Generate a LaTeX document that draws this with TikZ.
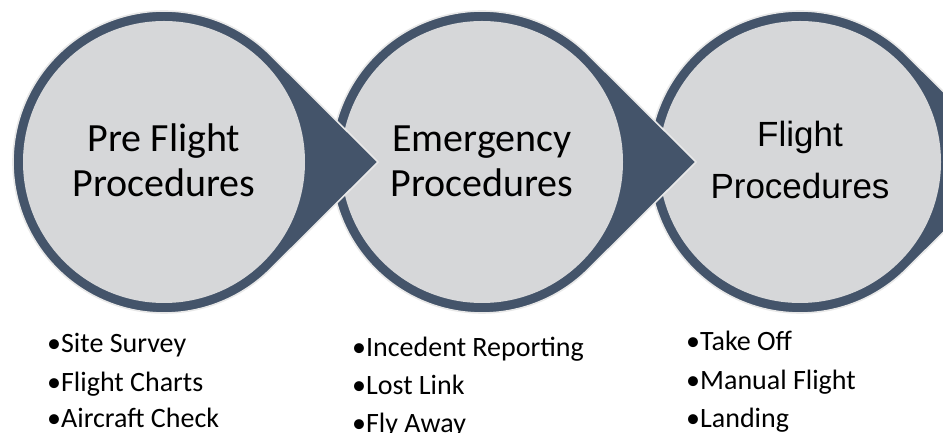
\documentclass[tikz,border=0pt]{standalone}
\usepackage{fontspec}
\newfontfamily\calfont{Carlito}
\newfontfamily\arifont{Liberation Sans}
\usetikzlibrary{calc}
\definecolor{ringdark}{HTML}{44546A}
\definecolor{discfill}{HTML}{D6D7D9}
\definecolor{halo}{HTML}{E8E8E8}
\tikzset{
  teardrop/.style={fill=ringdark, draw=halo, line width=1.6pt, line join=miter},
  disc/.style={fill=discfill},
  biglabel/.style={anchor=base, inner sep=0pt, font=\calfont\fontsize{40}{45}\selectfont},
  biglabelb/.style={anchor=base, inner sep=0pt, font=\arifont\fontsize{35}{45}\selectfont},
  bullet/.style={anchor=base west, inner sep=0pt, font=\calfont\fontsize{28}{34}\selectfont}
}
\newcommand{\stage}[1]{%
  \draw[teardrop] ($(#1)+(214,0)$) -- ($(#1)+(45:151)$) arc[start angle=45, end angle=315, radius=151] -- cycle;
  \fill[disc] (#1) circle[radius=141];
}
\begin{document}
\begin{tikzpicture}[x=1pt,y=1pt]
\useasboundingbox (0,0) rectangle (943,433);
\clip (0,0) rectangle (943,433);
\fill[white] (0,0) rectangle (943,433);
\coordinate (k1) at (164,271);
\coordinate (k2) at (482,271);
\coordinate (k3) at (800,271);
\stage{k3}
\stage{k2}
\stage{k1}
% circle labels
\node[biglabel] (t1a) at (164,281) {Pre Flight};
\node[biglabel] (t1b) at (164,236) {Procedures};
\node[biglabel] (t2a) at (482,281) {Emergency};
\node[biglabel] (t2b) at (482,236) {Procedures};
\node[biglabelb] (t3a) at (800,286) {Flight};
\node[biglabelb] (t3b) at (800,234) {Procedures};
% bullet lists
\node[bullet] (b11) at (47,80) {•Site Survey};
\node[bullet] (b12) at (47,41.5) {•Flight Charts};
\node[bullet] (b13) at (47,5) {•Aircraft Check};
\node[bullet] (b21) at (352,76) {•Incedent Reporting};
\node[bullet] (b22) at (352,38) {•Lost Link};
\node[bullet] (b23) at (352,0) {•Fly Away};
\node[bullet] (b31) at (686,82) {•Take Off};
\node[bullet] (b32) at (686,43) {•Manual Flight};
\node[bullet] (b33) at (686,5) {•Landing};
\end{tikzpicture}
\end{document}
